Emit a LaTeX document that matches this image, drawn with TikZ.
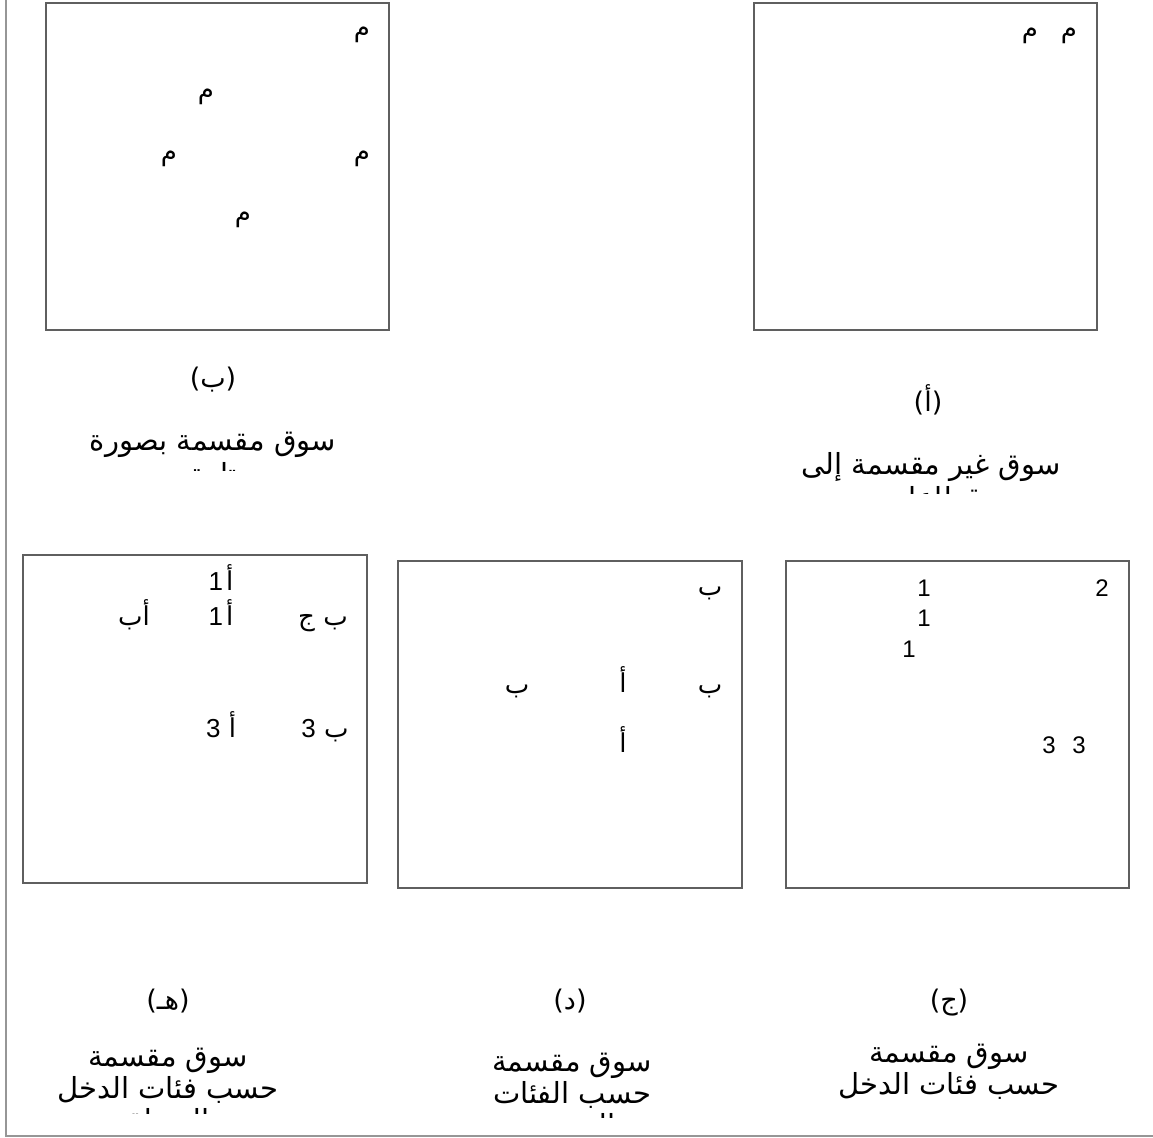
\documentclass[tikz,border=0pt]{standalone}
\usepackage{fontspec}
\usepackage{tikz}
\usetikzlibrary{positioning}
\TeXXeTstate=1
\newfontfamily\arabicfont[Script=Arabic]{DejaVu Sans}
\newfontfamily\digitfont{Liberation Sans}
\definecolor{framegray}{RGB}{150, 150, 150}
\definecolor{boxgray}{RGB}{95, 95, 95}
\newcommand{\artxt}[1]{\beginR #1\endR}

\begin{document}
\begin{tikzpicture}[x=1pt, y=-1pt,
    panel/.style={draw=boxgray, line width=1.2pt},
    cell/.style={font=\arabicfont\fontsize{26}{30}\selectfont, inner sep=0pt, anchor=base},
    digit/.style={cell, font=\digitfont\fontsize{24}{28}\selectfont},
    tag/.style={font=\arabicfont\fontsize{27}{32}\selectfont, inner sep=0pt, anchor=base},
    caption/.style={font=\arabicfont\fontsize{29}{34}\selectfont, inner sep=0pt, anchor=base}]
    \useasboundingbox (0,0) rectangle (1153,1137);

    % Outer frame
    \draw[framegray, line width=2pt] (5.5,0) -- (5.5,1136) -- (1153,1136);

    % Panel (b)
    \draw[panel] (46,3) rectangle (389,330);
    \foreach \x/\y [count=\i] in {362/35, 206/97, 169/159, 362/159, 243/220}
        {\node[cell, anchor=center] (bm\i) at (\x,\y) {\artxt{م}};}
    \node[tag] (blab) at (213,387) {\artxt{(ب)}};
    \node[caption] (bcap1) at (213,450) {\artxt{سوق مقسمة بصورة}};
    \begin{scope}
        \clip (40,459) rectangle (400,470);
        \node[caption] (bcap2) at (213,484) {\artxt{تامة}};
    \end{scope}

    % Panel (a)
    \draw[panel] (754,3) rectangle (1097,330);
    \foreach \x/\y [count=\i] in {1030/36, 1069/36}
        {\node[cell, anchor=center] (am\i) at (\x,\y) {\artxt{م}};}
    \node[tag] (alab) at (928,411) {\artxt{(أ)}};
    \node[caption] (acap1) at (931,474) {\artxt{سوق غير مقسمة إلى}};
    \begin{scope}
        \clip (760,484) rectangle (1100,493);
        \node[caption] (acap2) at (931,508) {\artxt{قطاعات}};
    \end{scope}

    % Panel (e)
    \draw[panel] (23,555) rectangle (367,883);
    \node[cell] (e1) at (221,590) {\artxt{أ\hspace{3pt}{\digitfont 1}}};
    \node[cell] (e2) at (221,625) {\artxt{أ\hspace{3pt}{\digitfont 1}}};
    \node[cell] (e3) at (134,625) {\artxt{أب}};
    \node[cell] (e4) at (323,625) {\artxt{ب ج}};
    \node[cell] (e5) at (221,737) {\artxt{أ {\digitfont 3}}};
    \node[cell] (e6) at (325,737) {\artxt{ب {\digitfont 3}}};
    \node[tag] (elab) at (168,1009) {\artxt{(هـ)}};
    \node[caption] (ecap1) at (168,1066) {\artxt{سوق مقسمة}};
    \node[caption] (ecap2) at (168,1098) {\artxt{حسب فئات الدخل}};
    \begin{scope}
        \clip (20,1105) rectangle (380,1113);
        \node[caption] (ecap3) at (168,1130) {\artxt{والمنطقة}};
    \end{scope}

    % Panel (d)
    \draw[panel] (398,561) rectangle (742,888);
    \node[cell] (d1) at (710,595) {\artxt{ب}};
    \node[cell] (d2) at (517,693) {\artxt{ب}};
    \node[cell] (d3) at (623,692) {\artxt{أ}};
    \node[cell] (d4) at (710,693) {\artxt{ب}};
    \node[cell] (d5) at (623,752) {\artxt{أ}};
    \node[tag] (dlab) at (570,1009) {\artxt{(د)}};
    \node[caption] (dcap1) at (572,1071) {\artxt{سوق مقسمة}};
    \node[caption] (dcap2) at (572,1103) {\artxt{حسب الفئات}};
    \begin{scope}
        \clip (400,1110) rectangle (740,1117);
        \node[caption] (dcap3) at (572,1135) {\artxt{العمرية}};
    \end{scope}

    % Panel (c)
    \draw[panel] (786,561) rectangle (1129,888);
    \foreach \x/\y/\n [count=\i] in {924/596/1, 1102/596/2, 924/626/1, 909/657/1, 1049/753/3, 1079/753/3}
        {\node[digit] (c\i) at (\x,\y) {\n};}
    \node[tag] (clab) at (949,1009) {\artxt{(ج)}};
    \node[caption] (ccap1) at (949,1062) {\artxt{سوق مقسمة}};
    \node[caption] (ccap2) at (949,1094) {\artxt{حسب فئات الدخل}};
\end{tikzpicture}
\end{document}
